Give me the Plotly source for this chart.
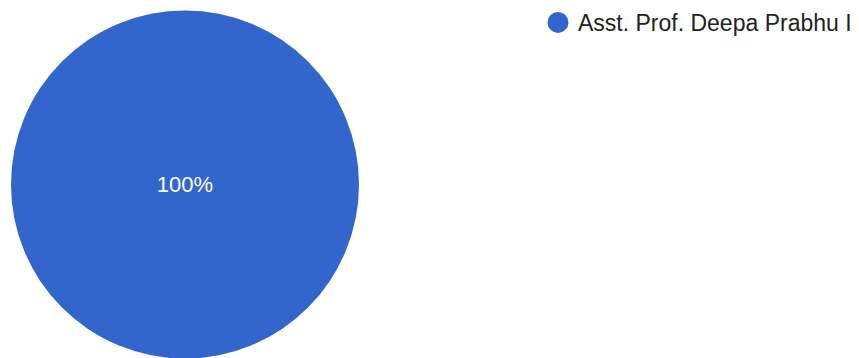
import plotly.graph_objects as go

labels = ["Asst. Prof. Deepa Prabhu I"]
values = [1]
colors = ["#3366CC"]

W, H = 859, 358
fig = go.Figure()
fig.add_trace(go.Pie(
    labels=labels, values=values,
    marker=dict(colors=colors, line=dict(width=0)),
    textinfo="percent", textposition="inside",
    insidetextfont=dict(color="white", size=22, family="Liberation Sans, Arial"),
    sort=False, showlegend=False, hoverinfo="label+percent",
    domain=dict(x=[3 / W, 351 / W], y=[(H - 350.5) / H, (H - 2.5) / H]),
))
# legend entry with circular marker
fig.add_trace(go.Scatter(
    x=[None], y=[None], mode="markers", name=labels[0],
    marker=dict(color=colors[0], size=16, symbol="circle",
                line=dict(color=colors[0], width=5)),
    showlegend=True,
))
fig.update_xaxes(visible=False)
fig.update_yaxes(visible=False)
fig.update_layout(
    width=W, height=H,
    margin=dict(l=0, r=0, t=0, b=0, autoexpand=False),
    paper_bgcolor="white", plot_bgcolor="white",
    legend=dict(x=530 / W, y=1 + 7 / H, xanchor="left", yanchor="top",
                font=dict(size=23, color="#222222", family="Liberation Sans, Arial"),
                itemsizing="trace", bgcolor="rgba(0,0,0,0)"),
)
fig.write_html("out.html")
